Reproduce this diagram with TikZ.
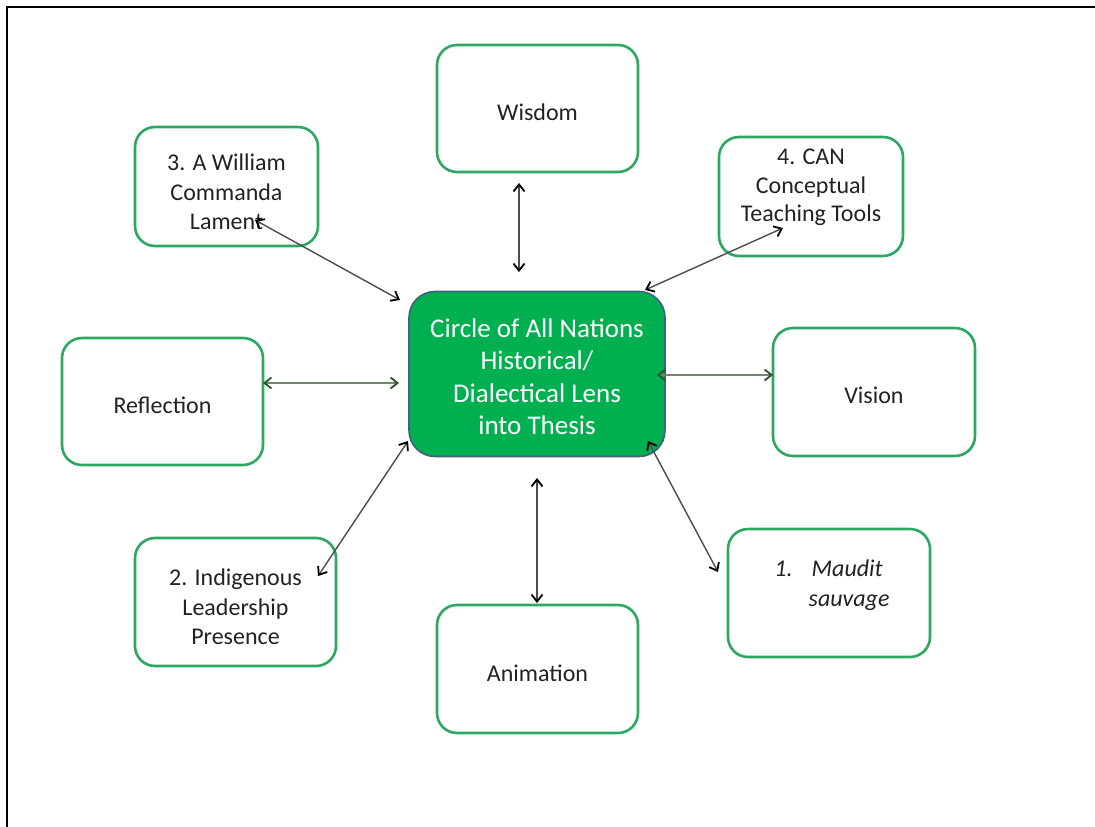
\documentclass[tikz,border=0pt]{standalone}
\usepackage{fontspec}
\setmainfont{Carlito}
\usetikzlibrary{arrows.meta}
\definecolor{boxgreen}{RGB}{44,168,98}
\definecolor{ctrfill}{RGB}{0,176,80}
\definecolor{ctredge}{RGB}{62,98,128}
\definecolor{txt}{RGB}{34,34,34}
\definecolor{darrow}{RGB}{45,85,40}
\definecolor{larrow}{RGB}{115,135,110}
\newcommand{\tbx}[2]{\smash{\raisebox{#1}{\begin{tabular}{@{}c@{}}#2\end{tabular}}}}
\tikzset{
  bkhd/.tip={Straight Barb[length=7pt,width=11pt,line width=1.8pt,color=black]},
  gnhd/.tip={Straight Barb[length=7pt,width=11pt,line width=1.8pt,color=darrow]},
  box/.style={draw=boxgreen, line width=2.6pt, rounded corners=20pt, fill=white,
    minimum width=201pt, minimum height=127pt, inner sep=0pt, align=center,
    text=txt, font=\fontsize{24}{29.5}\selectfont},
  ctrbox/.style={draw=ctredge, line width=1.6pt, rounded corners=26pt, fill=ctrfill,
    minimum width=256pt, minimum height=165pt, inner sep=0pt, align=center,
    text=white, font=\fontsize{27}{32.3}\selectfont},
  blk/.style={draw=black!70, line width=1.4pt, bkhd-bkhd},
  grn/.style={draw=larrow, line width=1.5pt, gnhd-gnhd},
  frame/.style={draw=black, line width=2pt}
}
\begin{document}
\begin{tikzpicture}[x=1pt,y=-1pt]
\useasboundingbox (0,0) rectangle (1095,827);
\fill[white] (0,0) rectangle (1095,827);
\draw[frame] (7,827) -- (7,7) -- (1095,7);

\node[box] (wis) at (537.5,108.5) {\tbx{-12.75pt}{Wisdom}};
\node[box, minimum width=183pt, minimum height=119pt] (wil) at (226.5,186.5) {\tbx{-14.25pt}{3. A William\\Commanda\\Lament}};
\node[box, minimum width=184pt, minimum height=119pt, font=\fontsize{24}{28.5}\selectfont] (can) at (811,196.5) {\tbx{2.75pt}{4. CAN\\Conceptual\\Teaching Tools}};
\node[box] (ref) at (162.5,401.5) {\tbx{-12.75pt}{Reflection}};
\node[box, minimum width=202pt, minimum height=128pt] (vis) at (874,392) {\tbx{-12.25pt}{Vision}};
\node[box, minimum height=128pt] (ind) at (235.5,602) {\tbx{-13.75pt}{2. Indigenous\\Leadership\\Presence}};
\node[box, minimum height=128pt] (ani) at (537.5,669) {\tbx{-13.25pt}{Animation}};
\node[box, minimum width=202pt, minimum height=128pt] (mau) at (829,593)
  {\smash{\raisebox{1.25pt}{\hspace{6pt}\itshape\begin{tabular}{@{}l@{\hspace{19pt}}l@{}}1.&Maudit\\&\hspace{-3pt}sauvage\end{tabular}}}};
\node[ctrbox] (ctr) at (537,374) {\tbx{-11.75pt}{Circle of All Nations\\Historical/\\Dialectical Lens\\into Thesis}};

\coordinate (wisA) at (519,183);   \coordinate (wisB) at (519,272);
\coordinate (wilA) at (255,220);   \coordinate (wilB) at (400,300);
\coordinate (canA) at (783,228);   \coordinate (canB) at (645,290);
\coordinate (refA) at (263,383);   \coordinate (refB) at (399,383);
\coordinate (visA) at (657,375);   \coordinate (visB) at (773,375);
\coordinate (indA) at (318,576);   \coordinate (indB) at (408,441);
\coordinate (aniA) at (537,603);   \coordinate (aniB) at (537,478);
\coordinate (mauA) at (718,572);   \coordinate (mauB) at (648,441);

\draw[blk] (wisA) -- (wisB);
\draw[blk] (wilA) -- (wilB);
\draw[blk] (canA) -- (canB);
\draw[grn] (refA) -- (refB);
\draw[grn] (visA) -- (visB);
\draw[blk] (indA) -- (indB);
\draw[blk] (aniA) -- (aniB);
\draw[blk] (mauA) -- (mauB);
\end{tikzpicture}
\end{document}
